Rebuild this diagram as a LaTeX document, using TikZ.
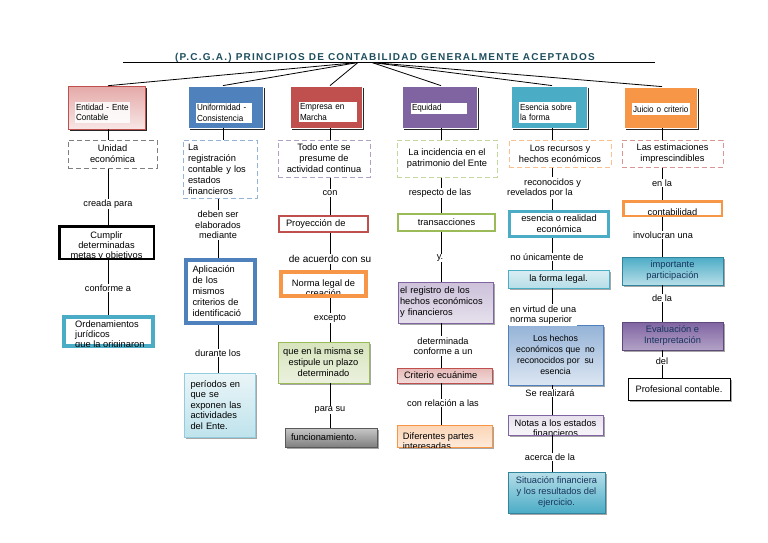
\documentclass[tikz,border=0pt]{standalone}
\usepackage{fontspec}
\setmainfont{Liberation Sans}
\newfontfamily\hdrfont[FakeStretch=0.92]{Liberation Sans}
\newfontfamily\titlefont[LetterSpace=12.5]{Liberation Sans}
\usetikzlibrary{shadows}
\definecolor{tblue}{HTML}{4F81BD}
\definecolor{tred}{HTML}{C0504D}
\definecolor{tpurple}{HTML}{8064A2}
\definecolor{tteal}{HTML}{4BACC6}
\definecolor{torange}{HTML}{F79646}
\definecolor{tgreen}{HTML}{9BBB59}
\definecolor{dgray}{HTML}{7F7F7F}
\definecolor{dblue}{HTML}{95B3D7}
\definecolor{dpurple}{HTML}{B2A1C7}
\definecolor{dgreen}{HTML}{C3D69B}
\definecolor{dorange}{HTML}{FAC090}
\definecolor{dred}{HTML}{D99694}
\definecolor{pinkA}{HTML}{E6B9B8}
\definecolor{pinkB}{HTML}{F2DCDB}
\definecolor{pinkH}{HTML}{E4A9A8}
\definecolor{pinkHB}{HTML}{F8E6E6}
\definecolor{cyanA}{HTML}{EAF5F8}
\definecolor{cyanB}{HTML}{BFE3EC}
\definecolor{cyanBd}{HTML}{93CDDD}
\definecolor{greenA}{HTML}{D7E4BD}
\definecolor{greenB}{HTML}{EBF1DE}
\definecolor{grayA}{HTML}{C8C8C8}
\definecolor{grayB}{HTML}{7F7F7F}
\definecolor{grayBd}{HTML}{595959}
\definecolor{lavA}{HTML}{CCC1DA}
\definecolor{lavB}{HTML}{E6E0EC}
\definecolor{peachA}{HTML}{FCD5B5}
\definecolor{peachB}{HTML}{FDEADA}
\definecolor{lbA}{HTML}{DAEEF3}
\definecolor{lbB}{HTML}{B7DEE8}
\definecolor{blA}{HTML}{95B3D7}
\definecolor{blB}{HTML}{DCE6F2}
\definecolor{palA}{HTML}{E6E0EC}
\definecolor{palB}{HTML}{F7F5FA}
\definecolor{tealA}{HTML}{B7DEE8}
\definecolor{tealB}{HTML}{4BACC6}
\definecolor{tealD}{HTML}{31859C}
\definecolor{purD}{HTML}{5F497A}
\definecolor{purB}{HTML}{B3A2C7}
\definecolor{titlec}{HTML}{1F4F5F}
\definecolor{navy}{HTML}{17365D}
\begin{document}
\begin{tikzpicture}[x=1pt,y=-1pt,
  every node/.style={font=\fontsize{9.3}{11}\selectfont, inner sep=1pt},
  wh/.style 2 args={minimum width=#1pt, minimum height=#2pt},
  conn/.style={draw=black, line width=0.8pt},
  lbl/.style={fill=white, align=center, inner sep=1pt, font=\fontsize{9.2}{10.5}\selectfont},
  hdr/.style={rectangle, fill=#1, draw=white, line width=0.8pt,
    drop shadow={shadow xshift=2pt, shadow yshift=-2pt, fill=black, opacity=0.85}},
  hdrE/.style={rectangle, top color=pinkH, bottom color=pinkHB, draw=tred, line width=0.6pt,
    drop shadow={shadow xshift=2pt, shadow yshift=-2pt, fill=black, opacity=0.85}},
  hin/.style={fill=white, inner xsep=1pt, inner ysep=0pt, align=left,
    font=\hdrfont\fontsize{8.8}{10.5}\selectfont},
  dbox/.style={rectangle, draw=#1, line width=1pt, dash pattern=on 5pt off 3pt, fill=white, align=center},
  tbox/.style 2 args={rectangle, draw=#1, line width=#2pt, fill=white, align=center},
  gbox/.style n args={3}{rectangle, draw=#1, line width=0.6pt, top color=#2, bottom color=#3, align=center,
    drop shadow={shadow xshift=1.5pt, shadow yshift=-1.5pt, fill=black, opacity=0.35}},
  cliptop/.style 2 args={path picture={\node[anchor=north, align=center, inner sep=0pt,
    font=\fontsize{9.3}{10}\selectfont] at ([yshift=#2]path picture bounding box.north) {#1};}},
  cliptxt/.style={anchor=north west, align=left, inner sep=0pt, font=\fontsize{9.3}{10}\selectfont},
]
\useasboundingbox (0,0) rectangle (768,543);
\fill[white] (0,0) rectangle (768,543);

% title
\node[anchor=base, text=titlec, inner sep=0pt, font=\titlefont\bfseries\fontsize{10}{12}\selectfont] (title) at (385,61)
  {(P.C.G.A.) PRINCIPIOS DE CONTABILIDAD GENERALMENTE ACEPTADOS};
\coordinate (ulL) at (123,62.5);
\coordinate (ulR) at (655,62.5);
\draw[line width=0.9pt] (ulL) -- (ulR);
\coordinate (hubL) at (358,62.5);
\coordinate (hubR) at (372,62.5);

% column x positions
\coordinate (x1) at (108,0);
\coordinate (x2a) at (223,0);
\coordinate (x2) at (218,0);
\coordinate (x3) at (330,0);
\coordinate (x4) at (441,0);
\coordinate (x5) at (552,0);
\coordinate (x6) at (662,0);

% headers
\node[hdrE, wh={77}{43}] (h1) at (106.5,107.5) {};
\node[hin, text width=53pt, minimum height=21pt, fill opacity=0.85, text opacity=1] (h1i) at (102.5,112.5) {Entidad - Ente\\Contable};
\node[hdr=tblue, wh={75}{42}] (h2) at (225.5,107) {};
\node[hin, text width=54pt, minimum height=20pt] (h2i) at (224,113) {Uniformidad -\\Consistencia};
\node[hdr=tred, wh={72}{42}] (h3) at (326,107) {};
\node[hin, text width=56pt, minimum height=20pt] (h3i) at (328,112) {Empresa en\\Marcha};
\node[hdr=tpurple, wh={75}{42}] (h4) at (439.5,107) {};
\node[hin, text width=54pt, minimum height=11pt] (h4i) at (439,108.5) {Equidad};
\node[hdr=tteal, wh={76}{42}] (h5) at (549,107) {};
\node[hin, text width=55pt, minimum height=21pt] (h5i) at (547.5,112.5) {Esencia sobre\\la forma};
\node[hdr=torange, wh={73}{41}] (h6) at (660.5,107.5) {};
\node[hin, text width=56pt, minimum height=12pt] (h6i) at (661,109) {Juicio o criterio};

% column 1
\node[dbox=dgray, wh={89}{28}] (u1) at (112.5,154) {Unidad\\económica};
\node[tbox={black}{2.5}, wh={94.5}{32.5}, cliptop={Cumplir\\determinadas\\metas y objetivos}{-2pt}] (b1) at (106.5,242.5) {};
\node[tbox={tteal}{4}, wh={89}{29}] (b2) at (108.5,331.5) {};
\begin{scope}
\clip ([xshift=2pt,yshift=2pt]b2.south west) rectangle ([xshift=-2pt,yshift=-2pt]b2.north east);
\node[cliptxt] (b2t) at ([xshift=13pt,yshift=-5.5pt]b2.north west) {Ordenamientos\\jurídicos\\que la originaron};
\end{scope}

% column 2
\node[dbox=dblue, wh={74}{58}, text width=64pt, align=left] (d2) at (220,169) {La\\registración\\contable y los\\estados\\financieros};
\node[tbox={tblue}{4}, wh={69}{63}, text width=56pt, align=left] (b3) at (220.5,291.5) {Aplicación\\de los\\mismos\\criterios de\\identificació};
\node[gbox={cyanBd}{cyanA}{cyanB}, wh={71}{64}, text width=58pt, align=left, font=\fontsize{9.3}{10.5}\selectfont] (b4) at (219.5,405) {períodos en\\que se\\exponen las\\actividades\\del Ente.};

% column 3
\node[dbox=dpurple, wh={92}{37}] (d3) at (324,158.5) {Todo ente se\\presume de\\actividad continua};
\node[tbox={tred}{2}, wh={89}{16}, text width=75pt, align=left] (b5) at (323.5,224) {Proyección de};
\node[tbox={torange}{4}, wh={85}{24}, cliptop={Norma legal de\\creación}{-2.5pt}] (b6) at (323.5,284) {};
\node[gbox={tgreen}{greenA}{greenB}, wh={91}{41}] (b7) at (323.5,362.5) {que en la misma se\\estipule un plazo\\determinado};
\node[gbox={grayBd}{grayA}{grayB}, wh={92}{19}, text width=80pt, align=left] (b8) at (331,437.5) {funcionamiento.};

% column 4
\node[dbox=dgreen, wh={100}{37}] (d4) at (447,158.5) {La incidencia en el\\patrimonio del Ente};
\node[tbox={tgreen}{2}, wh={97}{17}] (b9) at (446.5,222.5) {transacciones};
\node[gbox={tpurple}{lavA}{lavB}, wh={95}{41}, text width=91pt, align=left] (b10) at (445.5,302.5) {el registro de los\\hechos económicos\\y financieros};
\node[gbox={tred}{pinkA}{pinkB}, wh={95}{15}, text width=81pt, align=left] (b11) at (444.5,375.5) {Criterio ecuánime};
\node[gbox={torange}{peachA}{peachB}, wh={95}{22}] (b12) at (444.5,436) {};
\begin{scope}
\clip ([xshift=0.3pt,yshift=0.3pt]b12.south west) rectangle ([xshift=-0.3pt,yshift=-0.3pt]b12.north east);
\node[cliptxt] (b12t) at ([xshift=6pt,yshift=-7.5pt]b12.north west) {Diferentes partes\\interesadas};
\end{scope}

% column 5
\node[dbox=dorange, wh={102}{27}] (d5) at (560,153.5) {Los recursos y\\hechos económicos};
\node[tbox={tteal}{3}, wh={99}{25}] (b13) at (559,224) {esencia o realidad\\económica};
\node[gbox={tteal}{lbA}{lbB}, wh={101}{18}] (b14) at (558.5,279) {la forma legal.};
\node[gbox={tblue}{blA}{blB}, wh={95}{60}, font=\fontsize{8.8}{11}\selectfont] (b15) at (555.5,355) {Los hechos\\económicos que~~no\\reconocidos por~~su\\esencia};
\node[gbox={tpurple}{palA}{palB}, wh={95}{20}, cliptop={Notas a los estados\\financieros}{-2.5pt}] (b16) at (555.5,425) {};
\node[gbox={tealD}{tealA}{tealB}, wh={97}{41}, text=navy] (b17) at (556.5,492.5) {Situación financiera\\y los resultados del\\ejercicio.};

% column 6
\node[dbox=dred, wh={101}{27}] (d6) at (672.5,153.5) {Las estimaciones\\imprescindibles};
\node[tbox={torange}{2.5}, wh={98.5}{14.5}, cliptop={contabilidad}{-2.5pt}] (b18) at (672.5,208.5) {};
\node[gbox={tealD}{tteal}{tealA}, wh={101}{28}, text=navy] (b19) at (672.5,271) {importante\\participación};
\node[gbox={purD}{tpurple}{purB}, wh={101}{28}, text=navy] (b20) at (672.5,336) {Evaluación e\\Interpretación};
\node[rectangle, draw=black, line width=0.8pt, fill=white, wh={102}{22},
  drop shadow={shadow xshift=1.5pt, shadow yshift=-1.5pt, fill=black, opacity=0.35}] (b21) at (679,389) {Profesional contable.};

% fan connectors
\draw[conn] (hubL) -- (h1.north -| x1);
\draw[conn] (hubL) -- (h2.north -| x2a);
\draw[conn] (hubL) -- (h3.north -| x3);
\draw[conn] (hubR) -- (h4.north -| x4);
\draw[conn] (hubR) -- (h5.north -| x5);
\draw[conn] (hubR) -- (h6.north -| x6);

% column connectors
\draw[conn] (h1.south -| x1) -- (u1.north -| x1);
\draw[conn] (u1.south -| x1) -- (b1.north -| x1);
\draw[conn] (b1.south -| x1) -- (b2.north -| x1);

\draw[conn] (h2.south -| x2a) -- (d2.north -| x2a);
\draw[conn] (d2.south -| x2) -- (b3.north -| x2);
\draw[conn] (b3.south -| x2) -- (b4.north -| x2);

\draw[conn] (h3.south -| x3) -- (d3.north -| x3);
\draw[conn] (d3.south -| x3) -- (b5.north -| x3);
\draw[conn] (b5.south -| x3) -- (b6.north -| x3);
\draw[conn] (b6.south -| x3) -- (b7.north -| x3);
\draw[conn] (b7.south -| x3) -- (b8.north -| x3);

\draw[conn] (h4.south -| x4) -- (d4.north -| x4);
\draw[conn] (d4.south -| x4) -- (b9.north -| x4);
\draw[conn] (b9.south -| x4) -- (b10.north -| x4);
\draw[conn] (b10.south -| x4) -- (b11.north -| x4);
\draw[conn] (b11.south -| x4) -- (b12.north -| x4);

\draw[conn] (h5.south -| x5) -- (d5.north -| x5);
\draw[conn] (d5.south -| x5) -- (b13.north -| x5);
\draw[conn] (b13.south -| x5) -- (b14.north -| x5);
\draw[conn] (b14.south -| x5) -- (b15.north -| x5);
\draw[conn] (b15.south -| x5) -- (b16.north -| x5);
\draw[conn] (b16.south -| x5) -- (b17.north -| x5);

\draw[conn] (h6.south -| x6) -- (d6.north -| x6);
\draw[conn] (d6.south -| x6) -- (b18.north -| x6);
\draw[conn] (b18.south -| x6) -- (b19.north -| x6);
\draw[conn] (b19.south -| x6) -- (b20.north -| x6);
\draw[conn] (b20.south -| x6) -- (b21.north -| x6);

% labels
\node[lbl] (l1a) at (108,204) {creada para};
\node[lbl] (l1b) at (108,288) {conforme a};
\node[lbl] (l2a) at (218,225) {deben ser\\elaborados\\mediante};
\node[lbl] (l2b) at (218,353) {durante los};
\node[lbl] (l3a) at (330,193) {con};
\node[lbl, font=\fontsize{10}{11}\selectfont] (l3b) at (330,259) {de acuerdo con su};
\node[lbl] (l3c) at (330,318) {excepto};
\node[lbl] (l3d) at (330,410) {para su};
\node[lbl] (l4a) at (440,193) {respecto de las};
\node[lbl] (l4b) at (440,258) {y.};
\node[lbl] (l4c) at (443,346) {determinada\\conforme a un};
\node[lbl] (l4d) at (443,403) {con relación a las};
\node[lbl, anchor=west, align=left] (l5a) at (506,188) {\hspace*{17pt}reconocidos y\\revelados por la};
\node[lbl] (l5b) at (547,257) {no únicamente de};
\node[lbl, anchor=west, align=left] (l5c) at (509,315) {en virtud de una\\norma superior};
\node[lbl] (l5d) at (550,393) {Se realizará};
\node[lbl] (l5e) at (550,457) {acerca de la};
\node[lbl] (l6a) at (662,183) {en la};
\node[lbl] (l6b) at (663,235) {involucran una};
\node[lbl] (l6c) at (662,298) {de la};
\node[lbl] (l6d) at (662,361) {del};
\end{tikzpicture}
\end{document}
